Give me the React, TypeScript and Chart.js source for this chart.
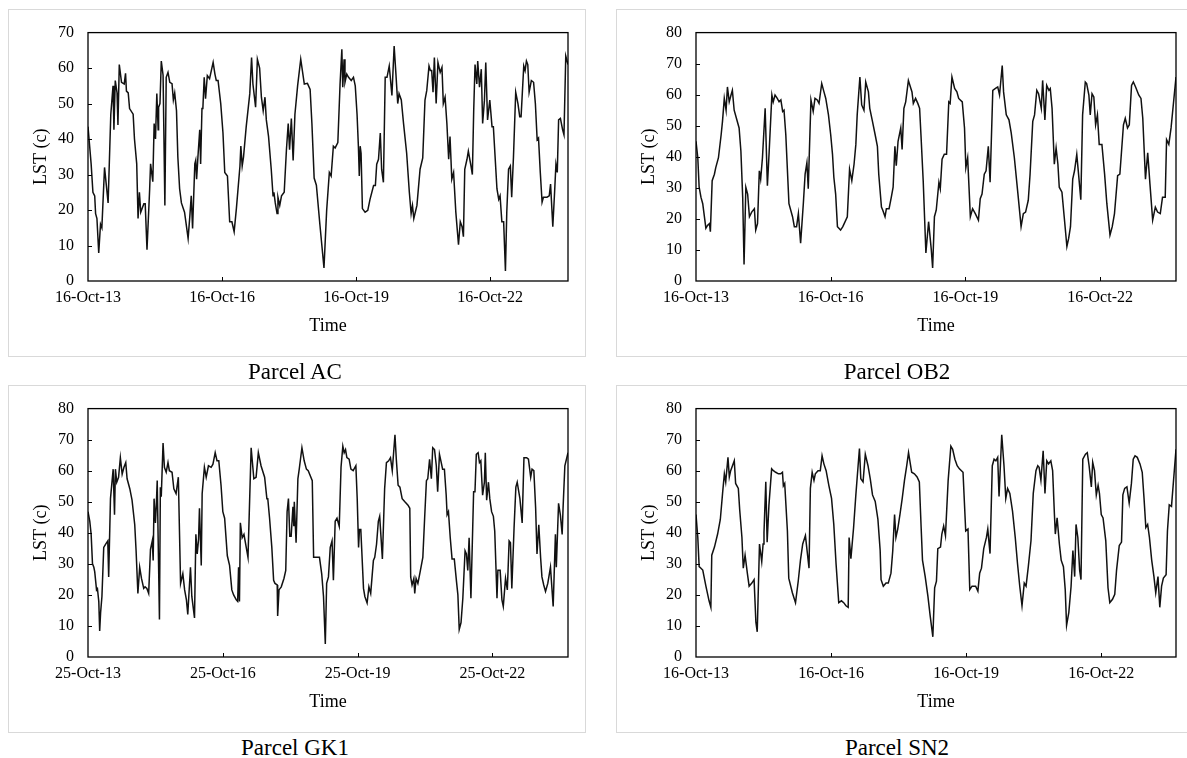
import React, { useEffect, useRef } from "react";
import { Chart, registerables } from "chart.js";

Chart.register(...registerables);

// ---- Data: [years since first tick date, LST (°C)] ----
const acSeries: [number, number][] = [
  [0.00,43.5],[0.07,33],[0.11,25],[0.15,24],[0.17,19],[0.20,17.6],[0.24,7.9],[0.28,16],[0.31,15],[0.37,32],
  [0.45,22],[0.51,47],[0.56,55],[0.58,42.6],[0.61,56.5],[0.65,53],[0.67,44],[0.70,61],[0.75,56],[0.81,55.5],
  [0.84,58.5],[0.86,53.5],[0.90,53],[0.93,48.6],[1.01,47],[1.04,40],[1.09,33],[1.12,17.6],[1.15,25],[1.18,19.4],
  [1.25,21.8],[1.28,21.8],[1.32,8.8],[1.38,26],[1.40,33],[1.45,28],[1.48,44.4],[1.51,40],[1.54,52.8],[1.57,42.6],
  [1.58,49],[1.61,50],[1.64,62],[1.68,58],[1.72,21.3],[1.75,57.4],[1.79,58.8],[1.83,56],[1.88,55.6],[1.91,51],
  [1.94,53],[1.98,48],[2.01,35],[2.05,26],[2.09,22],[2.16,19.4],[2.24,12],[2.28,18.5],[2.31,24],[2.34,14.8],
  [2.39,33],[2.41,34],[2.43,28.7],[2.46,35],[2.50,42.6],[2.52,33],[2.55,48.6],[2.57,48.6],[2.60,57.4],[2.63,51.4],
  [2.67,57.9],[2.72,57],[2.80,61.6],[2.84,58.3],[2.87,56.5],[2.91,56.5],[2.97,50],[3.02,41.7],[3.06,30.6],[3.12,29.6],
  [3.17,16.7],[3.22,16.7],[3.27,13.9],[3.32,20.4],[3.40,32.4],[3.42,38],[3.45,32.4],[3.48,35],[3.54,43.5],[3.62,52.8],
  [3.66,63],[3.69,55.5],[3.75,49],[3.79,62.5],[3.84,60],[3.88,51.8],[3.92,48],[3.96,51.8],[3.99,45.4],[4.04,40.7],
  [4.10,31.5],[4.14,24],[4.16,25],[4.19,22],[4.23,19],[4.25,23.6],[4.29,21.3],[4.33,24],[4.39,25],[4.44,37],
  [4.48,44.4],[4.51,37],[4.55,45.8],[4.59,34],[4.63,47],[4.69,55],[4.76,62.5],[4.84,55.5],[4.91,55.7],[4.97,54],
  [5.01,44.4],[5.06,29],[5.11,27],[5.19,15.7],[5.28,3.7],[5.34,19.9],[5.40,30.6],[5.44,29.6],[5.49,38],[5.53,37.5],
  [5.59,39],[5.64,55.5],[5.68,65.3],[5.70,54.6],[5.73,62.5],[5.75,56],[5.79,58.3],[5.83,57.4],[5.89,56.5],[5.94,57.4],
  [5.98,55],[6.02,47],[6.05,38],[6.07,29.6],[6.09,38],[6.11,36],[6.14,20.4],[6.20,19.4],[6.26,19.9],[6.31,23],
  [6.39,26.9],[6.43,26.9],[6.46,32.9],[6.50,34.3],[6.54,41.7],[6.57,31.5],[6.61,27.8],[6.65,57.4],[6.69,57.4],[6.74,60.6],
  [6.76,57.9],[6.80,52.3],[6.85,66.2],[6.89,58.3],[6.93,50],[6.96,52.8],[7.01,51],[7.06,44.4],[7.13,36],[7.19,25],
  [7.23,19],[7.26,21.3],[7.29,17.6],[7.36,21.3],[7.43,31.5],[7.49,34.7],[7.54,51],[7.58,53.7],[7.63,60.6],[7.66,59.3],
  [7.69,59.3],[7.72,53.2],[7.75,63],[7.79,50],[7.83,61.6],[7.88,58.8],[7.92,60.2],[7.95,50],[7.99,51.8],[8.03,44.4],
  [8.07,34.3],[8.10,40.7],[8.14,28.7],[8.18,30.6],[8.23,19.4],[8.29,10.2],[8.33,16.7],[8.37,15.3],[8.40,12.5],[8.43,31.5],
  [8.48,34.3],[8.51,36.6],[8.57,32.4],[8.60,30],[8.63,48],[8.66,61],[8.70,55.5],[8.72,62],[8.76,54.6],[8.80,59.7],
  [8.83,44.4],[8.87,50.9],[8.90,61.6],[8.94,45.4],[8.99,51],[9.04,43.5],[9.07,43.5],[9.15,26],[9.19,23],[9.22,24],
  [9.26,16.7],[9.30,16.7],[9.34,2.8],[9.37,19.4],[9.41,31.5],[9.45,32.4],[9.48,23.6],[9.52,35],[9.57,53.2],[9.62,50],
  [9.66,46.3],[9.69,46.3],[9.75,60.6],[9.78,59.3],[9.81,62],[9.84,61],[9.87,53.2],[9.92,56.5],[9.97,56],[10.01,50],
  [10.05,39.8],[10.08,40.3],[10.12,30.6],[10.16,22.2],[10.19,23.6],[10.27,23.6],[10.32,24],[10.35,27.3],[10.40,15.3],[10.44,25],
  [10.47,32.9],[10.50,30.6],[10.53,45.4],[10.57,45.8],[10.62,42.6],[10.65,41.2],[10.69,63.4],[10.74,61],
];

const ob2Series: [number, number][] = [
  [0.00,45],[0.04,39.7],[0.07,30.2],[0.11,27],[0.15,24.9],[0.22,17],[0.26,18],[0.30,18.5],[0.32,15.9],[0.36,32.3],
  [0.41,34.4],[0.44,36.5],[0.50,39.7],[0.56,47.1],[0.59,51.4],[0.63,58.8],[0.67,55],[0.70,62.5],[0.74,57.7],[0.78,59.9],
  [0.81,61.4],[0.85,55],[0.90,52.4],[0.96,49.3],[1.00,41.8],[1.04,27],[1.07,5.3],[1.11,30.2],[1.15,28],[1.19,20.7],
  [1.24,22.2],[1.30,23.3],[1.33,16.4],[1.37,18.5],[1.41,35.5],[1.44,32.8],[1.48,39.7],[1.54,55.6],[1.59,30.7],[1.63,41.8],
  [1.69,59.9],[1.72,57.7],[1.76,59.9],[1.81,58.8],[1.85,57.7],[1.89,58.3],[1.93,54.6],[1.96,55],[2.00,47.1],[2.07,24.9],
  [2.15,20.7],[2.19,17.5],[2.24,17.5],[2.28,21.7],[2.33,12.2],[2.39,24.9],[2.43,34.4],[2.47,38.1],[2.50,29.7],[2.56,58.3],
  [2.61,54.6],[2.65,58.8],[2.70,58.3],[2.74,57.2],[2.80,63.6],[2.85,60.9],[2.89,58.8],[2.95,53.5],[3.00,47.1],[3.04,40.8],
  [3.07,33.4],[3.11,28],[3.15,17.5],[3.22,16.4],[3.27,17.5],[3.37,20.7],[3.42,36],[3.47,32.3],[3.52,37.6],[3.56,44],
  [3.59,53.5],[3.65,65.7],[3.69,56.7],[3.74,55],[3.78,64.1],[3.84,60.9],[3.87,55.6],[3.93,51.4],[3.99,47.1],[4.04,43.4],
  [4.07,34.4],[4.13,23.8],[4.16,22.8],[4.21,20.7],[4.24,23.3],[4.30,23.3],[4.35,27],[4.39,30.2],[4.43,43.4],[4.46,37.1],
  [4.50,45],[4.56,49.3],[4.59,42.4],[4.63,55.6],[4.67,57.7],[4.73,64.6],[4.81,60.9],[4.84,57.2],[4.89,58.8],[4.94,57.2],
  [4.98,55.6],[5.01,47.1],[5.06,32.3],[5.12,9],[5.18,19.1],[5.24,10.1],[5.27,4.2],[5.31,20.7],[5.35,22.8],[5.41,31.8],
  [5.44,29.7],[5.48,39.2],[5.53,40.8],[5.58,40.8],[5.63,57.7],[5.66,57.2],[5.70,65.7],[5.76,62],[5.81,60.9],[5.85,58.8],
  [5.93,57.7],[5.98,49.3],[6.01,36.5],[6.05,39.7],[6.11,20.7],[6.16,23.3],[6.22,21.7],[6.29,19.6],[6.33,26.5],[6.37,28],
  [6.42,34.4],[6.46,35.5],[6.51,43.4],[6.55,31.8],[6.61,61.4],[6.67,62],[6.72,62.5],[6.76,59.9],[6.82,69.4],[6.85,60.9],
  [6.91,53.5],[6.97,51.9],[7.02,47.7],[7.09,39.7],[7.17,28],[7.24,17.5],[7.29,21.7],[7.34,22.2],[7.40,26],[7.44,34.4],
  [7.50,51.4],[7.54,53.5],[7.59,61.4],[7.63,60.3],[7.69,55.6],[7.72,64.6],[7.77,51.9],[7.81,63],[7.86,61.4],[7.89,62],
  [7.93,55.6],[7.98,37.6],[8.02,42.9],[8.06,37.6],[8.09,30.2],[8.15,28.6],[8.20,20.7],[8.26,11.1],[8.30,13.8],[8.34,17.5],
  [8.39,32.8],[8.43,35.5],[8.48,40.8],[8.52,34.4],[8.57,26.2],[8.61,53.5],[8.67,64.1],[8.70,63.6],[8.75,59.9],[8.78,53.5],
  [8.82,60.3],[8.86,59.3],[8.90,50.3],[8.94,53.5],[8.98,44],[9.04,44],[9.10,34.4],[9.15,24.9],[9.22,14.8],[9.27,17.5],
  [9.32,21.7],[9.39,33.9],[9.44,34.4],[9.52,50.3],[9.56,52.4],[9.61,49.3],[9.65,50.3],[9.70,63],[9.74,64.1],[9.79,62.5],
  [9.86,59.9],[9.91,58.8],[9.95,52.4],[10.01,32.8],[10.06,41.3],[10.11,31.2],[10.17,19.6],[10.23,23.8],[10.28,22.2],[10.34,21.7],
  [10.39,27],[10.45,27],[10.48,45.5],[10.53,44],[10.58,49.3],[10.69,65.7],
];

const gk1Series: [number, number][] = [
  [0.00,46.8],[0.04,43.7],[0.07,39.5],[0.10,30],[0.13,28.9],[0.15,27.4],[0.19,21.6],[0.21,22],[0.24,17.9],[0.26,8.4],
  [0.28,14.2],[0.31,19.5],[0.35,35.3],[0.39,36.3],[0.44,37.4],[0.46,25.8],[0.50,51],[0.56,60.5],[0.59,45.8],[0.61,60.5],
  [0.64,56.3],[0.68,57.9],[0.72,64.2],[0.76,58.9],[0.80,61.1],[0.84,62.6],[0.87,57.4],[0.93,54.2],[0.98,50.5],[1.04,42.6],
  [1.07,34.2],[1.11,20.5],[1.15,28.9],[1.19,25.3],[1.24,22.1],[1.27,22.6],[1.31,22.1],[1.35,20.5],[1.39,34.7],[1.43,37.4],
  [1.45,31.1],[1.47,51],[1.50,43.2],[1.52,48.9],[1.54,56.8],[1.59,12.1],[1.61,54.7],[1.63,51.6],[1.67,68.9],[1.70,61.1],
  [1.74,59.5],[1.78,62.6],[1.81,60],[1.87,59.5],[1.91,54.2],[1.96,52.6],[2.01,57.9],[2.06,23.7],[2.11,26.8],[2.15,21.6],
  [2.19,18.4],[2.22,13.7],[2.28,28.9],[2.31,19.5],[2.37,12.6],[2.40,39.5],[2.43,33.2],[2.46,37.9],[2.48,47.9],[2.52,29.5],
  [2.54,52.6],[2.59,61.1],[2.63,57.9],[2.68,61.6],[2.74,61.1],[2.78,62.1],[2.83,65.8],[2.87,63.2],[2.91,63.2],[2.96,55.3],
  [3.00,46.8],[3.04,44.7],[3.10,32.6],[3.15,29.5],[3.20,21.6],[3.24,20],[3.30,18.4],[3.33,17.9],[3.35,28.9],[3.37,17.9],
  [3.39,43.2],[3.43,38.4],[3.47,39.5],[3.56,32.1],[3.63,67.4],[3.69,57.4],[3.74,57.9],[3.79,65.8],[3.85,61.6],[3.93,57.9],
  [3.98,51],[4.00,51],[4.04,44.7],[4.09,35.3],[4.13,24.7],[4.16,23.7],[4.21,23.2],[4.22,13.2],[4.25,21.6],[4.30,22.6],
  [4.36,25.3],[4.40,27.9],[4.43,46.8],[4.46,51],[4.49,38.9],[4.52,38.9],[4.56,48.4],[4.58,42.1],[4.59,50],[4.63,36.8],
  [4.67,57.4],[4.70,60.5],[4.76,67.4],[4.81,63.2],[4.86,60.5],[4.90,60],[4.99,56.8],[5.02,32.1],[5.07,32.1],[5.15,32.1],
  [5.20,26.8],[5.24,19.5],[5.28,4.2],[5.31,23.7],[5.35,25.8],[5.39,35.3],[5.43,37.4],[5.46,24.7],[5.50,43.7],[5.54,44.7],
  [5.59,42.1],[5.63,61.1],[5.67,67.9],[5.70,65.8],[5.73,66.8],[5.76,64.2],[5.81,63.7],[5.85,60.5],[5.90,60],[5.96,61.6],
  [5.99,51],[6.02,35.3],[6.04,41.1],[6.07,41.1],[6.13,22.1],[6.16,19.5],[6.21,17.4],[6.25,22.6],[6.29,20.5],[6.35,31.1],
  [6.38,32.1],[6.42,36.3],[6.46,43.7],[6.49,45.3],[6.55,31.6],[6.60,54.2],[6.64,62.6],[6.69,63.2],[6.73,64.2],[6.77,60],
  [6.83,71.6],[6.86,63.7],[6.90,55.3],[6.94,54.7],[6.99,51],[7.05,50],[7.12,48.9],[7.16,47.9],[7.18,25.8],[7.21,23.2],
  [7.25,25.3],[7.27,20.5],[7.30,25.3],[7.34,23.7],[7.39,27.4],[7.45,32.1],[7.49,44.7],[7.53,56.8],[7.56,57.4],[7.60,63.7],
  [7.64,57.4],[7.67,67.4],[7.71,66.8],[7.75,61.6],[7.78,53.2],[7.82,65.3],[7.86,62.6],[7.89,60.5],[7.93,60.5],[7.97,52.1],
  [7.99,45.8],[8.02,46.8],[8.06,38.4],[8.10,31.6],[8.15,31.6],[8.20,24.2],[8.23,20],[8.26,8.9],[8.30,11.1],[8.34,18.9],
  [8.39,34.2],[8.42,33.2],[8.45,27.9],[8.48,38.4],[8.52,18.9],[8.58,53.2],[8.61,53.2],[8.64,65.3],[8.68,65.8],[8.71,62.6],
  [8.74,63.2],[8.78,52.1],[8.82,56.3],[8.84,65.8],[8.87,50.5],[8.91,56.3],[8.94,51],[8.98,46.8],[9.02,45.3],[9.05,40.5],
  [9.10,18.9],[9.12,27.9],[9.17,27.9],[9.21,18.4],[9.24,16.3],[9.29,25.3],[9.33,21.6],[9.37,37.4],[9.40,36.8],[9.43,22.1],
  [9.48,41.6],[9.52,54.7],[9.55,56.3],[9.61,51],[9.66,43.2],[9.70,64.2],[9.76,64.2],[9.80,63.7],[9.85,57.9],[9.88,60.5],
  [9.92,60],[9.96,47.9],[9.99,33.2],[10.03,42.6],[10.07,32.1],[10.10,25.8],[10.14,23.2],[10.18,21.1],[10.23,23.7],[10.29,28.9],
  [10.35,16.3],[10.40,39.5],[10.42,28.9],[10.47,49.5],[10.51,45.8],[10.55,39.5],[10.57,47.9],[10.61,61.6],[10.68,65.8],
];

const sn2Series: [number, number][] = [
  [0.00,45.9],[0.04,38.5],[0.07,29.1],[0.11,28.6],[0.15,28],[0.22,22.8],[0.29,18.1],[0.33,16],[0.35,32.8],[0.41,35.4],
  [0.48,39.6],[0.54,44.3],[0.59,52.7],[0.63,59],[0.66,56.4],[0.71,64.3],[0.74,58],[0.77,60],[0.81,61.6],[0.85,63.2],
  [0.88,55.9],[0.94,54.3],[0.97,47.5],[1.02,38.5],[1.05,28.6],[1.09,32.8],[1.14,27],[1.18,22.8],[1.24,23.8],[1.29,24.9],
  [1.33,11.2],[1.36,8.1],[1.41,36.4],[1.46,30.7],[1.49,36.4],[1.51,40.1],[1.55,56.4],[1.58,37],[1.62,49],[1.68,60.6],
  [1.72,60],[1.77,59.5],[1.83,59],[1.88,59],[1.92,59.5],[1.94,55.1],[1.97,55.9],[2.03,40.6],[2.06,25.4],[2.14,20.7],
  [2.21,17.5],[2.27,24.4],[2.32,31.2],[2.37,36.4],[2.43,39.1],[2.51,28.6],[2.54,54.3],[2.58,59.5],[2.62,56.9],[2.65,59],
  [2.71,60],[2.76,60],[2.80,64.8],[2.84,62.2],[2.89,60],[2.95,55.3],[3.01,51.1],[3.06,42.7],[3.11,30.1],[3.17,17.5],
  [3.23,18.1],[3.28,17.5],[3.33,16.5],[3.38,16],[3.40,38.5],[3.44,31.7],[3.50,41.7],[3.55,52.2],[3.60,61.6],[3.63,67.1],
  [3.66,57.4],[3.71,56.4],[3.76,65.3],[3.82,61.6],[3.87,57.4],[3.92,52.2],[3.98,50.1],[4.04,44.3],[4.09,34.3],[4.11,24.9],
  [4.16,22.8],[4.22,23.8],[4.27,23.8],[4.33,27],[4.37,34.3],[4.41,45.9],[4.44,38.5],[4.48,41.2],[4.53,45.9],[4.58,51.1],
  [4.63,56.9],[4.68,61.6],[4.72,65.8],[4.76,62.2],[4.79,59.5],[4.85,59],[4.91,58],[4.96,56.4],[5.00,41.7],[5.03,31.2],
  [5.09,25.9],[5.15,19.6],[5.20,13.3],[5.26,6.5],[5.30,22.3],[5.34,24.4],[5.37,34.9],[5.43,35.4],[5.46,39.6],[5.50,42.2],
  [5.54,39.1],[5.60,56.9],[5.66,67.9],[5.70,66.9],[5.75,63.7],[5.80,61.6],[5.85,60.6],[5.93,59.5],[5.99,40.6],[6.04,41.2],
  [6.08,21.7],[6.13,22.8],[6.21,22.8],[6.26,21.2],[6.30,27],[6.34,28.6],[6.39,34.9],[6.45,38.5],[6.48,41.2],[6.53,33.3],
  [6.58,61.6],[6.62,63.7],[6.66,63.2],[6.70,64.3],[6.73,51.7],[6.79,71.6],[6.84,61.6],[6.88,51.1],[6.92,54.3],[6.97,52.7],
  [7.03,46.9],[7.09,38.5],[7.14,30.1],[7.19,22.8],[7.24,16.5],[7.29,23.8],[7.33,22.8],[7.38,29.1],[7.44,37.5],[7.49,52.7],
  [7.55,60],[7.59,61.6],[7.62,61.1],[7.66,56.9],[7.71,66.4],[7.75,52.7],[7.79,63.2],[7.83,62.2],[7.88,63.2],[7.92,60],
  [7.96,45.9],[7.98,39.6],[8.02,44.8],[8.07,36.4],[8.11,31.2],[8.16,29.1],[8.20,21.7],[8.23,10.2],[8.28,14.4],[8.33,22.8],
  [8.37,34.3],[8.41,25.9],[8.44,42.7],[8.48,38.5],[8.52,28],[8.55,24.9],[8.59,63.7],[8.65,65.3],[8.69,65.8],[8.73,61.6],
  [8.78,54.8],[8.81,62.7],[8.85,60],[8.89,52.2],[8.93,55.3],[8.96,52.7],[9.00,45.9],[9.04,44.8],[9.10,37.5],[9.15,22.3],
  [9.19,17.5],[9.25,18.6],[9.30,20.2],[9.34,28],[9.40,35.9],[9.45,37],[9.48,52.2],[9.52,54.3],[9.57,54.8],[9.62,49.6],
  [9.67,55.9],[9.71,63.7],[9.75,64.8],[9.80,64.3],[9.86,62.2],[9.91,59.5],[9.95,51.1],[9.99,41.7],[10.03,42.7],[10.07,38.5],
  [10.12,31.2],[10.17,25.9],[10.21,20.7],[10.26,25.9],[10.30,16],[10.34,22.8],[10.38,25.4],[10.44,26.5],[10.47,40.6],[10.51,49],
  [10.56,48.5],[10.66,66.9],
];

// ---- Axis ticks / labels ----
const tickYears = [0, 3, 6, 9];
const labels16Oct = ["16-Oct-13", "16-Oct-16", "16-Oct-19", "16-Oct-22"];
const labels25Oct = ["25-Oct-13", "25-Oct-16", "25-Oct-19", "25-Oct-22"];
const panelTitles = ["Parcel AC", "Parcel OB2", "Parcel GK1", "Parcel SN2"];

const FONT = "'Liberation Serif', 'Times New Roman', Times, serif";

// frame geometry (px) inside each panel canvas
const FRAME_W = 578;
const FRAME_H = 348;
const INSET = { left: 80, right: 18, top: 18, bottom: 76 };

const boxPlugin = {
  id: "boxAndInnerTicks",
  afterDatasetsDraw(chart: any) {
    const { ctx, chartArea: a, scales } = chart;
    ctx.save();
    ctx.strokeStyle = "#000";
    ctx.lineWidth = 1.3;
    ctx.strokeRect(a.left, a.top, a.right - a.left, a.bottom - a.top);
    ctx.lineWidth = 1;
    ctx.beginPath();
    for (const t of scales.x.ticks) {
      const px = Math.round(scales.x.getPixelForValue(t.value)) + 0.5;
      if (px > a.left + 2 && px < a.right - 2) {
        ctx.moveTo(px, a.bottom);
        ctx.lineTo(px, a.bottom - 4);
      }
    }
    for (const t of scales.y.ticks) {
      const py = Math.round(scales.y.getPixelForValue(t.value)) + 0.5;
      if (py < a.bottom - 2 && py > a.top + 2) {
        ctx.moveTo(a.left, py);
        ctx.lineTo(a.left + 4, py);
      }
    }
    ctx.stroke();
    ctx.restore();
  },
};

type PanelProps = {
  series: [number, number][];
  yMax: number;
  xMax: number;
  tickLabels: string[];
  left: number;
  top: number;
};

function Panel({ series, yMax, xMax, tickLabels, left, top }: PanelProps) {
  const ref = useRef<HTMLCanvasElement | null>(null);
  useEffect(() => {
    if (!ref.current) return;
    const chart = new Chart(ref.current, {
      type: "line",
      data: {
        datasets: [
          {
            data: series.map(([x, y]) => ({ x, y })),
            borderColor: "#111",
            borderWidth: 1.5,
            pointRadius: 0,
            tension: 0,
            fill: false,
          },
        ],
      },
      options: {
        animation: false,
        responsive: false,
        maintainAspectRatio: false,
        layout: { padding: { left: 0, right: INSET.right, top: INSET.top, bottom: 0 } },
        plugins: { legend: { display: false }, tooltip: { enabled: false } },
        scales: {
          x: {
            type: "linear",
            min: 0,
            max: xMax,
            afterBuildTicks: (s: any) => {
              s.ticks = tickYears.map((v) => ({ value: v }));
            },
            afterFit: (s: any) => {
              s.height = INSET.bottom;
            },
            grid: { display: false, drawTicks: false },
            border: { display: false },
            ticks: {
              autoSkip: false,
              maxRotation: 0,
              padding: 7,
              color: "#000",
              font: { family: FONT, size: 16 },
              callback: (_v: any, i: number) => tickLabels[i] ?? "",
            },
            title: {
              display: true,
              text: "Time",
              color: "#000",
              font: { family: FONT, size: 18 },
              padding: { top: 0, bottom: 20 },
            },
          },
          y: {
            min: 0,
            max: yMax,
            afterFit: (s: any) => {
              s.width = INSET.left;
            },
            grid: { display: false, drawTicks: false },
            border: { display: false },
            ticks: {
              stepSize: 10,
              padding: 14,
              color: "#000",
              font: { family: FONT, size: 16 },
            },
            title: {
              display: true,
              text: "LST (c)",
              color: "#000",
              font: { family: FONT, size: 18 },
              padding: { top: 22, bottom: 0 },
            },
          },
        },
      },
      plugins: [boxPlugin],
    } as any);
    return () => chart.destroy();
  }, [series, yMax, xMax, tickLabels]);

  return (
    <div style={{ position: "absolute", left, top, width: FRAME_W, height: FRAME_H }}>
      <div
        style={{
          position: "absolute",
          left: 0,
          top: 0,
          width: FRAME_W,
          height: FRAME_H,
          boxSizing: "border-box",
          border: "1.5px solid #d9d9d9",
        }}
      />
      <canvas
        ref={ref}
        width={FRAME_W}
        height={FRAME_H}
        style={{ position: "absolute", left: 0, top: 0, width: FRAME_W, height: FRAME_H }}
      />
    </div>
  );
}

function Caption({ text, cx, cy }: { text: string; cx: number; cy: number }) {
  return (
    <div
      style={{
        position: "absolute",
        left: cx - 150,
        top: cy - 14,
        width: 300,
        textAlign: "center",
        fontFamily: FONT,
        fontSize: 23,
        lineHeight: "28px",
        color: "#000",
      }}
    >
      {text}
    </div>
  );
}

export default function App() {
  return (
    <div
      style={{
        position: "absolute",
        left: 0,
        top: 0,
        width: 1187,
        height: 758,
        overflow: "hidden",
        background: "#fff",
      }}
    >
      <Panel series={acSeries} yMax={70} xMax={10.74} tickLabels={labels16Oct} left={8} top={9} />
      <Panel series={ob2Series} yMax={80} xMax={10.69} tickLabels={labels16Oct} left={616} top={9} />
      <Panel series={gk1Series} yMax={80} xMax={10.68} tickLabels={labels25Oct} left={8} top={385} />
      <Panel series={sn2Series} yMax={80} xMax={10.66} tickLabels={labels16Oct} left={616} top={385} />
      <Caption text={panelTitles[0]} cx={295} cy={372} />
      <Caption text={panelTitles[1]} cx={897} cy={372} />
      <Caption text={panelTitles[2]} cx={295} cy={748} />
      <Caption text={panelTitles[3]} cx={897} cy={748} />
    </div>
  );
}
